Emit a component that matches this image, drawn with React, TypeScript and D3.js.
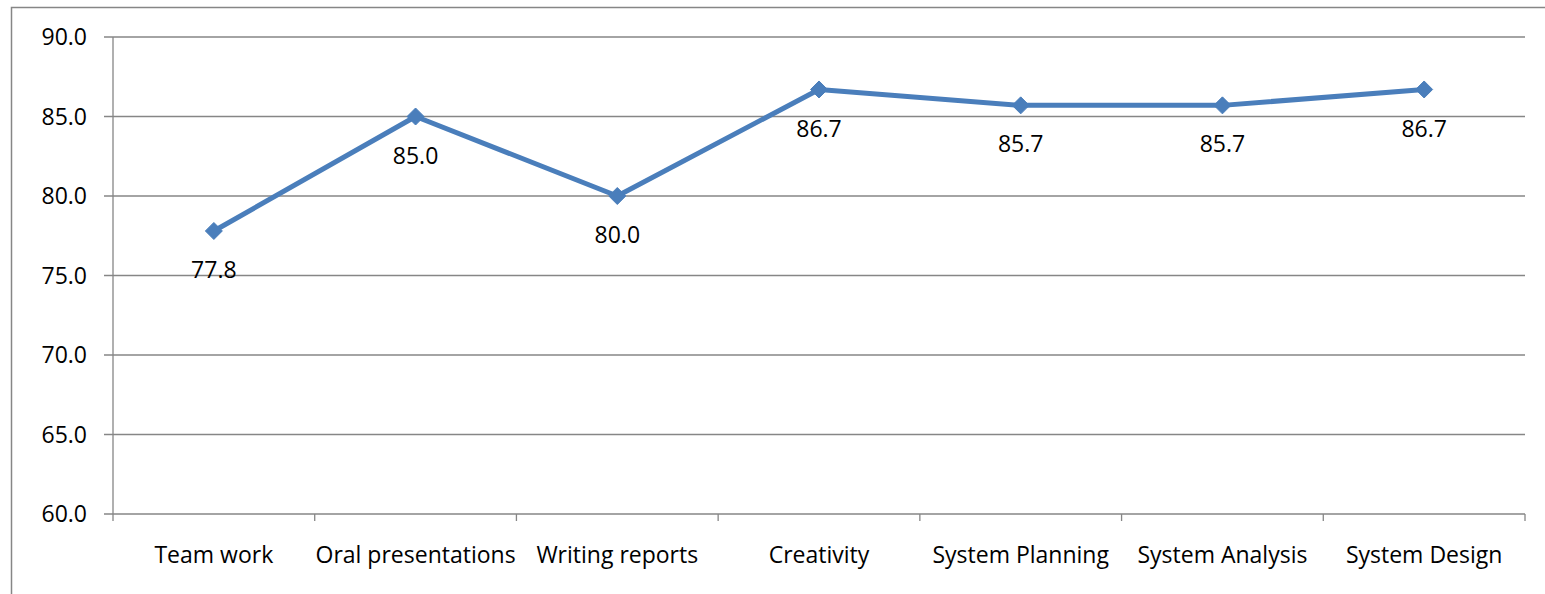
import React from "react";
import * as d3 from "d3";

const categories = ["Team work", "Oral presentations", "Writing reports", "Creativity", "System Planning", "System Analysis", "System Design"];
const values = [77.8, 85.0, 80.0, 86.7, 85.7, 85.7, 86.7];
const yTicks = [60, 65, 70, 75, 80, 85, 90];

const W = 1545, H = 594;
const left = 113, right = 1525, top = 37, bottom = 514;
const FONT = "'Open Sans', sans-serif";

export default function App() {
  const x = d3.scaleBand<string>().domain(categories).range([left, right]);
  const y = d3.scaleLinear().domain([60, 90]).range([bottom, top]);
  const line = d3.line<number>().x((_, i) => (x(categories[i]) as number) + x.bandwidth() / 2).y(d => y(d));
  const grid = "#868686";
  const bounds = [...categories.map(c => x(c) as number), right];
  return (
    <svg width={W} height={H} style={{ position: "absolute", left: 0, top: 0 }}>
      <rect x={0} y={0} width={W} height={H} fill="#fff" />
      <rect x={11.5} y={7.5} width={W + 10} height={H + 10} fill="none" stroke="#868686" strokeWidth={1.5} />
      {yTicks.map(t => (
        <g key={t}>
          <line x1={104} x2={right} y1={y(t)} y2={y(t)} stroke={grid} strokeWidth={1.3} />
          <text x={87} y={y(t)} dy="0.35em" textAnchor="end" fontFamily={FONT} fontSize={23} fill="#000">{t.toFixed(1)}</text>
        </g>
      ))}
      <line x1={left} x2={left} y1={top} y2={bottom} stroke={grid} strokeWidth={1.3} />
      {bounds.map((b, i) => (
        <line key={i} x1={b} x2={b} y1={bottom} y2={bottom + 7} stroke={grid} strokeWidth={1.3} />
      ))}
      {categories.map(c => (
        <text key={c} x={(x(c) as number) + x.bandwidth() / 2} y={555} dy="0.35em" textAnchor="middle" fontFamily={FONT} fontSize={23} fill="#000">{c}</text>
      ))}
      <path d={line(values) || ""} fill="none" stroke="#4a7ebb" strokeWidth={5} strokeLinejoin="round" />
      {values.map((v, i) => {
        const cx = (x(categories[i]) as number) + x.bandwidth() / 2;
        const cy = y(v);
        return (
          <g key={i}>
            <path d={`M${cx},${cy - 8.5} L${cx + 8.5},${cy} L${cx},${cy + 8.5} L${cx - 8.5},${cy} Z`} fill="#4a7ebb" stroke="#4a7ebb" strokeWidth={1} />
            <text x={cx} y={cy + 39} dy="0.35em" textAnchor="middle" fontFamily={FONT} fontSize={23} fill="#000">{v.toFixed(1)}</text>
          </g>
        );
      })}
    </svg>
  );
}
